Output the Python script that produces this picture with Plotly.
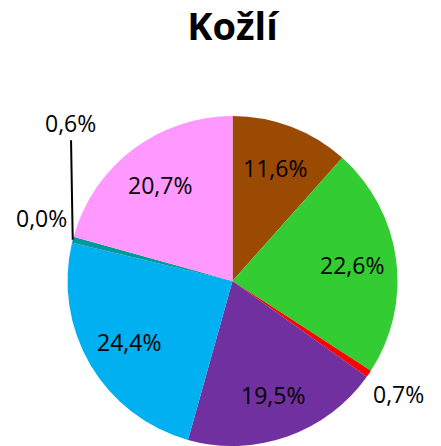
import math
import plotly.graph_objects as go

# data (clockwise from 12 o'clock)
values = [11.6, 22.6, 0.7, 19.5, 24.4, 0.0, 0.6, 20.7]
labels = ["11,6%", "22,6%", "0,7%", "19,5%", "24,4%", "0,0%", "0,6%", "20,7%"]
colors = ["#9B4A04", "#33CC33", "#FF0000", "#7030A0", "#00B0F0", "#4F81BD", "#009999", "#FF99FF"]
outside = [False, False, True, False, False, True, True, False]

W, H = 441, 446
CX, CY, R = 232.5, 281, 165  # pixel centre (from top) and radius
LABEL_FONT = dict(family="Open Sans", size=23, color="black")

fig = go.Figure()
fig.add_trace(go.Pie(
    values=values,
    textinfo="none",
    marker=dict(colors=colors, line=dict(width=0)),
    sort=False,
    direction="clockwise",
    rotation=0,
    hoverinfo="none",
    domain=dict(x=[(CX - R) / W, (CX + R) / W], y=[(H - CY - R) / H, (H - CY + R) / H]),
    showlegend=False,
))

# data labels placed along the slice mid-angles
total = sum(values)
cum = 0
annotations = []
for v, lab, o in zip(values, labels, outside):
    mid = (cum + v / 2) / total * 2 * math.pi
    cum += v
    if lab == "0,6%":
        # leader line from slice edge up to the label
        px = CX + R * math.sin(mid)
        py = CY - R * math.cos(mid)
        annotations.append(dict(
            x=px / W, y=1 - py / H, xref="paper", yref="paper",
            text=lab, showarrow=True, arrowhead=0, arrowwidth=2,
            arrowcolor="black", ax=-2, ay=-117,
            xanchor="center", yanchor="middle", font=LABEL_FONT,
        ))
        continue
    if o:
        rr = 1.19 * R if lab == "0,0%" else 1.22 * R
    else:
        rr = 0.73 * R
    px = CX + rr * math.sin(mid)
    py = CY - rr * math.cos(mid)
    if lab == "0,0%":
        py -= 18
    annotations.append(dict(
        x=px / W, y=1 - py / H, xref="paper", yref="paper",
        text=lab, showarrow=False,
        xanchor="center", yanchor="middle", font=LABEL_FONT,
    ))

fig.update_layout(
    width=W, height=H,
    margin=dict(l=0, r=0, t=0, b=0),
    paper_bgcolor="white",
    title=dict(text="<b>Kožlí</b>", x=CX / W, xanchor="center", y=1 - 27 / H, yanchor="middle",
               font=dict(family="Open Sans", size=38, color="black")),
    annotations=annotations,
)

fig.write_html("out.html", config={"displayModeBar": False},
               post_script="document.body.style.margin='0';")
